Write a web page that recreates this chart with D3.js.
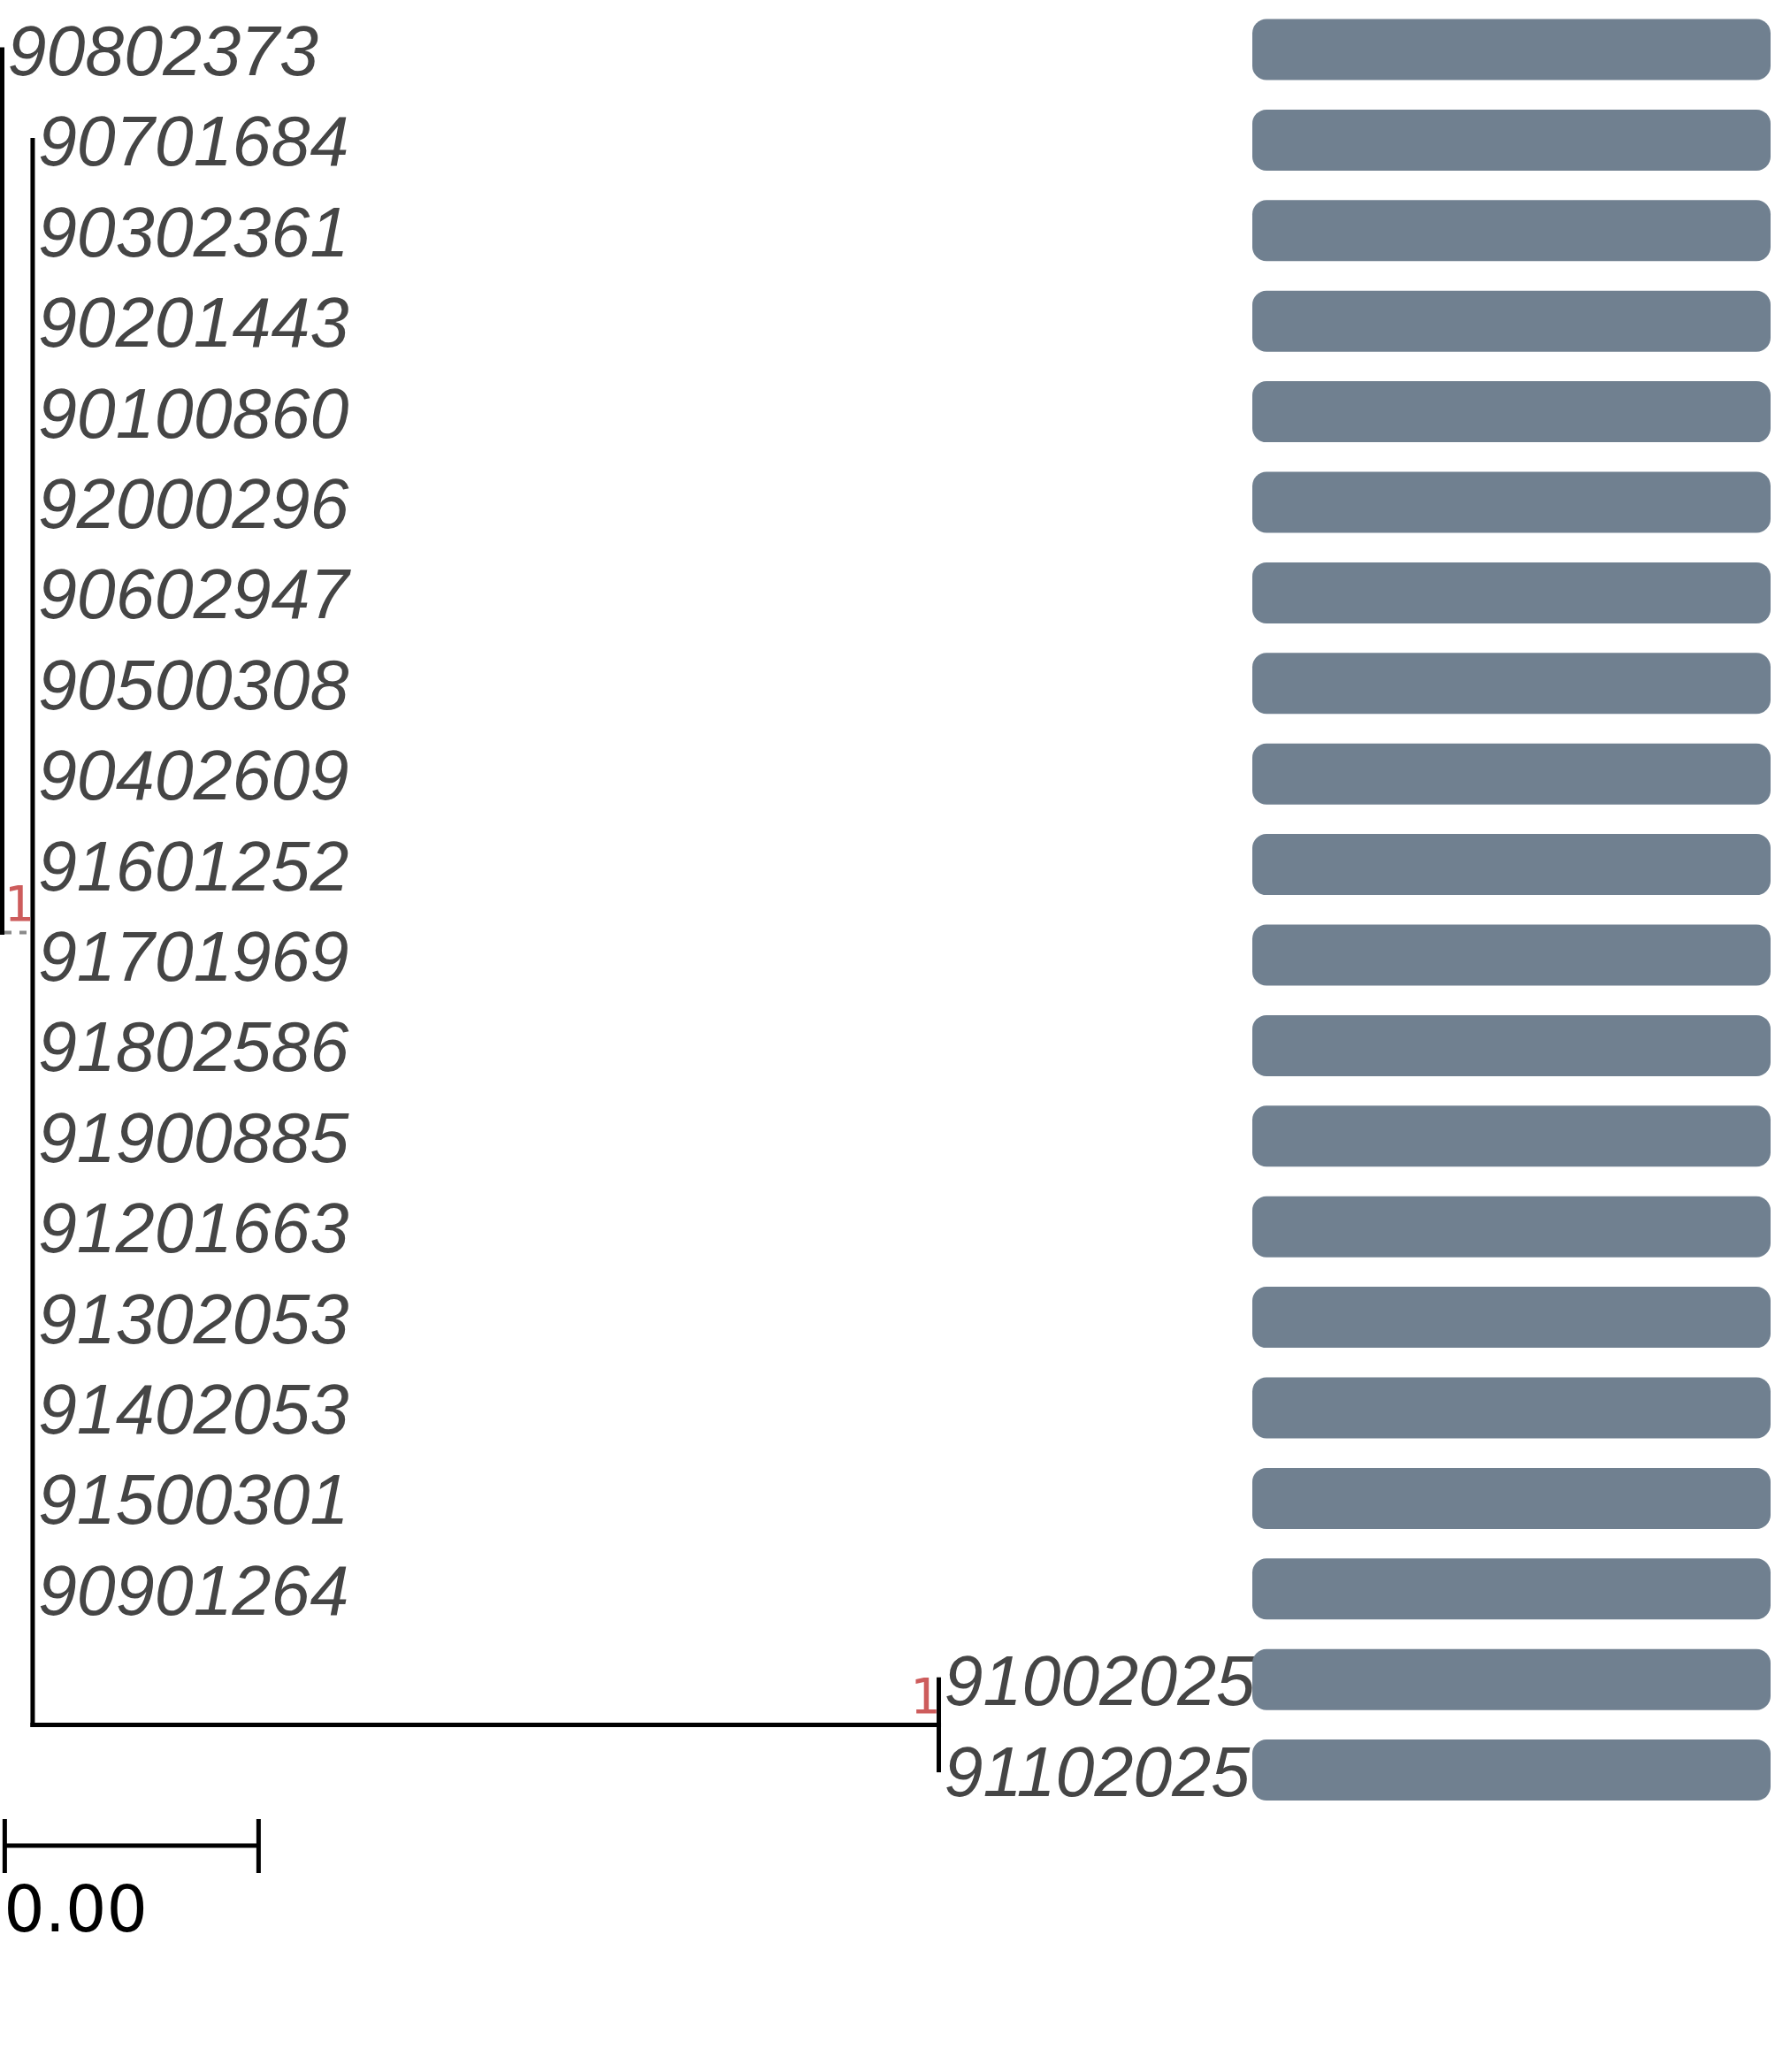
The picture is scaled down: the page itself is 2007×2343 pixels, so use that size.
<!DOCTYPE html>
<html>
<head>
<meta charset="utf-8">
<script src="https://cdn.jsdelivr.net/npm/d3@7"></script>
<style>
  body { margin: 0; background: #fff; }
</style>
</head>
<body>
<div id="chart"></div>
<script>
// tips, top to bottom
const tipLabels = ['90802373', '90701684', '90302361', '90201443', '90100860', '92000296',
  '90602947', '90500308', '90402609', '91601252', '91701969', '91802586', '91900885',
  '91201663', '91302053', '91402053', '91500301', '90901264', '91002025', '91102025'];
const tipParents = ['root', 'A', 'A', 'A', 'A', 'A', 'A', 'A', 'A', 'A', 'A', 'A', 'A',
  'A', 'A', 'A', 'A', 'A', 'B', 'B'];
const tipLengths = [0, 0, 0, 0, 0, 0, 0, 0, 0, 0, 0, 0, 0, 0, 0, 0, 0, 0, 0, 0];

// internal nodes
const nodeIds = ['root', 'A', 'B'];
const nodeParents = [null, 'root', 'A'];
const nodeLengths = [0, 0.00012, 0.00357];
const nodeSupport = [null, '1', '1'];

// bars on the right
const barValues = [1, 1, 1, 1, 1, 1, 1, 1, 1, 1, 1, 1, 1, 1, 1, 1, 1, 1, 1, 1];

const scaleBarLength = 0.001;
const scaleBarLabel = '0.00';

const width = 2007, height = 2343;

const svg = d3.select('#chart')
    .append('svg')
    .attr('width', width)
    .attr('height', height)
    .style('display', 'block');

// build the tree
let rows = nodeIds.map((id, i) => ({id: id, parent: nodeParents[i], len: nodeLengths[i], support: nodeSupport[i]}));
rows = rows.concat(tipLabels.map((t, i) => ({id: t, parent: tipParents[i], len: tipLengths[i], tip: true, order: i})));
const root = d3.stratify().id(d => d.id).parentId(d => d.parent)(rows);

const x = d3.scaleLinear().domain([0, scaleBarLength]).range([2.5, 289.5]);
const y = d3.scaleLinear().domain([0, tipLabels.length - 1]).range([56, 2001.6]);
const xBar = d3.scaleLinear().domain([0, 1]).range([1416, 2002]);

root.eachBefore(n => { n.dist = (n.parent ? n.parent.dist : 0) + n.data.len; });
root.eachAfter(n => {
    if (n.data.tip) {
        n.py = y(n.data.order);
    } else {
        // keep the children in tip order
        n.children.sort((a, b) => d3.min(a.leaves(), l => l.data.order) - d3.min(b.leaves(), l => l.data.order));
        n.py = (n.children[0].py + n.children[n.children.length - 1].py) / 2;
    }
    n.px = x(n.dist);
});

const tree = svg.append('g')
    .attr('fill', 'none')
    .attr('stroke', '#000')
    .attr('stroke-width', 5)
    .attr('stroke-linecap', 'square');

// vertical connectors
tree.selectAll('line.v')
    .data(root.descendants().filter(n => n.children))
    .join('line')
    .attr('class', 'v')
    .attr('x1', d => d.px).attr('x2', d => d.px)
    .attr('y1', d => d.children[0].py)
    .attr('y2', d => d.children[d.children.length - 1].py);

// horizontal branches
const branches = root.descendants().filter(n => n.parent && n.px - n.parent.px > 1);
tree.selectAll('line.h')
    .data(branches)
    .join('line')
    .attr('class', 'h')
    .attr('x1', d => d.parent.px + (d.parent.parent ? 0 : 2.5))
    .attr('x2', d => d.px)
    .attr('y1', d => d.py).attr('y2', d => d.py)
    .attr('stroke', d => d.parent.parent ? '#000' : '#8a8a8a')
    .attr('stroke-width', d => d.parent.parent ? 5 : 4)
    .attr('stroke-linecap', d => d.parent.parent ? 'square' : 'butt')
    .attr('stroke-dasharray', d => d.parent.parent ? null : '8 9');

// node support labels
svg.selectAll('text.support')
    .data(root.descendants().filter(n => n.data.support))
    .join('text')
    .attr('class', 'support')
    .attr('x', d => d.px + 1)
    .attr('y', d => d.py - 13)
    .attr('text-anchor', 'end')
    .attr('font-family', '"DejaVu Sans Mono", monospace')
    .attr('font-size', 56)
    .attr('fill', '#cd5c5c')
    .text(d => d.data.support);

// tip labels
svg.selectAll('text.tip')
    .data(root.leaves())
    .join('text')
    .attr('class', 'tip')
    .attr('x', d => d.px + 6)
    .attr('y', d => d.py + 29)
    .attr('font-family', '"Liberation Sans", Arial, sans-serif')
    .attr('font-style', 'italic')
    .attr('font-size', 79)
    .attr('fill', '#454545')
    .text(d => d.id);

// bars
svg.selectAll('rect.bar')
    .data(barValues)
    .join('rect')
    .attr('class', 'bar')
    .attr('x', xBar(0))
    .attr('y', (d, i) => y(i) - 34.5)
    .attr('width', d => xBar(d) - xBar(0))
    .attr('height', 69)
    .attr('rx', 16).attr('ry', 16)
    .attr('fill', '#708090');

// scale bar
const sb = svg.append('g')
    .attr('stroke', '#000')
    .attr('stroke-width', 5);
const sbY = 2087;
const sbX0 = x(0.00001), sbX1 = x(0.00001 + scaleBarLength);
sb.append('line').attr('x1', sbX0).attr('x2', sbX1).attr('y1', sbY).attr('y2', sbY);
sb.selectAll('line.tick')
    .data([sbX0, sbX1])
    .join('line')
    .attr('class', 'tick')
    .attr('x1', d => d).attr('x2', d => d)
    .attr('y1', sbY - 30).attr('y2', sbY + 31);
svg.append('text')
    .attr('x', sbX0 - 1)
    .attr('y', 2184)
    .attr('font-family', '"DejaVu Sans", sans-serif')
    .attr('font-size', 73)
    .attr('fill', '#000')
    .text(scaleBarLabel);
</script>
</body>
</html>
